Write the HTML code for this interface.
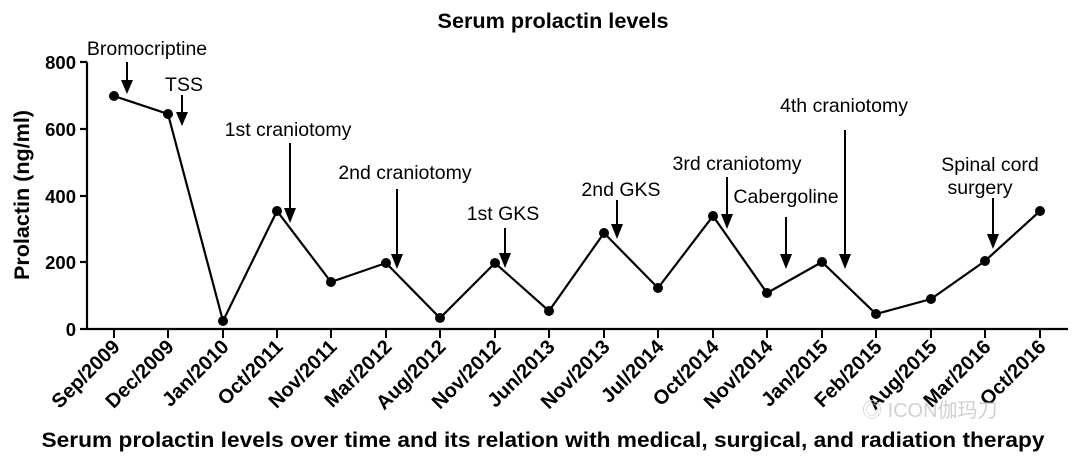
<!DOCTYPE html>
<html><head><meta charset="utf-8"><style>
html,body{margin:0;padding:0;background:#fff;}
svg{display:block;font-family:"Liberation Sans",Arial,"Noto Sans CJK SC",sans-serif;}
</style></head><body>
<svg width="1080" height="459" viewBox="0 0 1080 459" xmlns="http://www.w3.org/2000/svg">
<text x="553" y="28" text-anchor="middle" font-size="21" font-weight="bold" textLength="231" lengthAdjust="spacingAndGlyphs">Serum prolactin levels</text>
<text transform="translate(29,195) rotate(-90)" text-anchor="middle" font-size="21" font-weight="bold" textLength="170" lengthAdjust="spacingAndGlyphs">Prolactin (ng/ml)</text>
<g stroke="#000" stroke-width="2.2" fill="none">
<line x1="87" y1="62" x2="87" y2="330"/>
<line x1="86" y1="329" x2="1068" y2="329"/>
<line x1="80" y1="62" x2="87" y2="62"/>
<line x1="80" y1="129" x2="87" y2="129"/>
<line x1="80" y1="196" x2="87" y2="196"/>
<line x1="80" y1="262" x2="87" y2="262"/>
<line x1="80" y1="329" x2="87" y2="329"/>
</g>
<g font-size="18.5" font-weight="bold" text-anchor="end">
<text x="76" y="69">800</text><text x="76" y="136">600</text><text x="76" y="203">400</text><text x="76" y="269">200</text><text x="76" y="336">0</text>
</g>
<g stroke="#000" stroke-width="2">
<line x1="114" y1="329" x2="114" y2="338"/><line x1="168" y1="329" x2="168" y2="338"/><line x1="223" y1="329" x2="223" y2="338"/><line x1="277" y1="329" x2="277" y2="338"/><line x1="331" y1="329" x2="331" y2="338"/><line x1="386" y1="329" x2="386" y2="338"/><line x1="440" y1="329" x2="440" y2="338"/><line x1="495" y1="329" x2="495" y2="338"/><line x1="549" y1="329" x2="549" y2="338"/><line x1="604" y1="329" x2="604" y2="338"/><line x1="658" y1="329" x2="658" y2="338"/><line x1="713" y1="329" x2="713" y2="338"/><line x1="767" y1="329" x2="767" y2="338"/><line x1="822" y1="329" x2="822" y2="338"/><line x1="876" y1="329" x2="876" y2="338"/><line x1="931" y1="329" x2="931" y2="338"/><line x1="985" y1="329" x2="985" y2="338"/><line x1="1040" y1="329" x2="1040" y2="338"/>
</g>
<g font-size="20" font-weight="bold" text-anchor="end">
<text transform="translate(121,348) rotate(-45)">Sep/2009</text>
<text transform="translate(175,348) rotate(-45)">Dec/2009</text>
<text transform="translate(230,348) rotate(-45)">Jan/2010</text>
<text transform="translate(284,348) rotate(-45)">Oct/2011</text>
<text transform="translate(338,348) rotate(-45)">Nov/2011</text>
<text transform="translate(393,348) rotate(-45)">Mar/2012</text>
<text transform="translate(447,348) rotate(-45)">Aug/2012</text>
<text transform="translate(502,348) rotate(-45)">Nov/2012</text>
<text transform="translate(556,348) rotate(-45)">Jun/2013</text>
<text transform="translate(611,348) rotate(-45)">Nov/2013</text>
<text transform="translate(665,348) rotate(-45)">Jul/2014</text>
<text transform="translate(720,348) rotate(-45)">Oct/2014</text>
<text transform="translate(774,348) rotate(-45)">Nov/2014</text>
<text transform="translate(829,348) rotate(-45)">Jan/2015</text>
<text transform="translate(883,348) rotate(-45)">Feb/2015</text>
<text transform="translate(938,348) rotate(-45)">Aug/2015</text>
<text transform="translate(992,348) rotate(-45)">Mar/2016</text>
<text transform="translate(1047,348) rotate(-45)">Oct/2016</text>
</g>
<polyline fill="none" stroke="#000" stroke-width="2.2" points="114,96 168,114 223,321 277,211 331,282 386,263 440,318 495,263 549,311 604,233 658,288 713,216 767,293 822,262 876,314 931,299 985,261 1040,211"/>
<g fill="#000">
<circle cx="114" cy="96" r="5"/><circle cx="168" cy="114" r="5"/><circle cx="223" cy="321" r="5"/><circle cx="277" cy="211" r="5"/><circle cx="331" cy="282" r="5"/><circle cx="386" cy="263" r="5"/><circle cx="440" cy="318" r="5"/><circle cx="495" cy="263" r="5"/><circle cx="549" cy="311" r="5"/><circle cx="604" cy="233" r="5"/><circle cx="658" cy="288" r="5"/><circle cx="713" cy="216" r="5"/><circle cx="767" cy="293" r="5"/><circle cx="822" cy="262" r="5"/><circle cx="876" cy="314" r="5"/><circle cx="931" cy="299" r="5"/><circle cx="985" cy="261" r="5"/><circle cx="1040" cy="211" r="5"/>
</g>
<g stroke="#000" stroke-width="2">
<line x1="127" y1="62" x2="127" y2="82"/><line x1="182" y1="95" x2="182" y2="114"/><line x1="290" y1="143" x2="290" y2="210"/><line x1="397" y1="189" x2="397" y2="256"/><line x1="505" y1="228" x2="505" y2="255"/><line x1="617" y1="200" x2="617" y2="226"/><line x1="727" y1="177" x2="727" y2="216"/><line x1="786" y1="217" x2="786" y2="256"/><line x1="845" y1="130" x2="845" y2="256"/><line x1="993" y1="198" x2="993" y2="236"/>
</g>
<g fill="#000">
<polygon points="121,80 133,80 127,94"/><polygon points="176,112 188,112 182,126"/><polygon points="284,208 296,208 290,223"/><polygon points="391,254 403,254 397,269"/><polygon points="499,253 511,253 505,268"/><polygon points="611,224 623,224 617,239"/><polygon points="721,214 733,214 727,229"/><polygon points="780,254 792,254 786,269"/><polygon points="839,254 851,254 845,269"/><polygon points="987,234 999,234 993,249"/>
</g>
<g font-size="19.5" text-anchor="middle">
<text x="147" y="55">Bromocriptine</text>
<text x="184" y="91">TSS</text>
<text x="288" y="136">1st craniotomy</text>
<text x="405" y="179">2nd craniotomy</text>
<text x="503" y="220">1st GKS</text>
<text x="621" y="196">2nd GKS</text>
<text x="737" y="170">3rd craniotomy</text>
<text x="786" y="203">Cabergoline</text>
<text x="844" y="112">4th craniotomy</text>
<text x="990" y="171">Spinal cord</text>
<text x="980" y="194">surgery</text>
</g>
<text x="862" y="417" font-size="20" fill="#d0d0d0">◎ ICON伽玛刀</text>
<text x="543" y="447" text-anchor="middle" font-size="21" font-weight="bold" textLength="1003" lengthAdjust="spacingAndGlyphs">Serum prolactin levels over time and its relation with medical, surgical, and radiation therapy</text>
</svg>
</body></html>
